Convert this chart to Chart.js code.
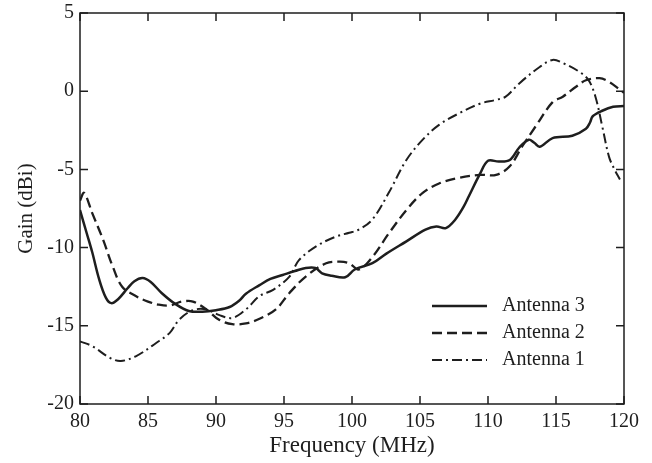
<!DOCTYPE html>
<html>
<head>
<meta charset="utf-8">
<script src="https://cdn.jsdelivr.net/npm/chart.js@4"></script>
<style>
  html, body { margin: 0; padding: 0; background: #fff; }
  #wrap { width: 652px; height: 463px; position: relative; }
</style>
</head>
<body>
<div id="wrap"><canvas id="gainChart"></canvas></div>
<script>
// frequency (MHz) / gain (dBi)
const freq3 = [80, 80.5, 80.9, 81.4, 81.9, 82.3, 82.8, 83.5, 84, 84.6, 85.2, 86, 87, 88, 89, 90, 91, 91.7, 92.2, 93.2, 94, 94.9, 95.8, 96.6, 97.3, 97.8, 98.5, 99.5, 100.2, 101.5, 102.5, 104, 105.4, 106.2, 106.9, 107.6, 108.2, 108.6, 109.4, 110, 110.8, 111.6, 112.3, 113, 113.4, 113.8, 114.75, 116.2, 117.2, 117.5, 117.7, 118.4, 119.2, 120];
const gain3 = [-7.6, -9.1, -10.3, -12, -13.2, -13.55, -13.3, -12.6, -12.15, -11.95, -12.2, -12.9, -13.6, -14.05, -14.1, -14, -13.8, -13.4, -12.95, -12.4, -12, -11.75, -11.5, -11.3, -11.3, -11.65, -11.8, -11.9, -11.4, -11, -10.4, -9.6, -8.85, -8.65, -8.75, -8.2, -7.4, -6.7, -5.3, -4.45, -4.5, -4.4, -3.6, -3.1, -3.3, -3.55, -3, -2.85, -2.4, -2, -1.6, -1.25, -1, -0.95];

const freq2 = [80, 80.3, 80.9, 81.7, 82.4, 83.1, 84.1, 85, 85.8, 86.6, 87.5, 88.3, 89.3, 90.2, 91.2, 92.2, 93.2, 94.4, 95.4, 96.6, 98.1, 99.1, 99.8, 100.5, 101.5, 102.7, 104, 105.2, 106.4, 107.8, 109.4, 110.6, 111.6, 112.5, 113.5, 114.75, 115.5, 116.5, 117.2, 118.2, 118.9, 119.7, 120];
const gain2 = [-7, -6.5, -7.8, -9.5, -11.2, -12.5, -13.1, -13.45, -13.65, -13.7, -13.45, -13.45, -13.95, -14.6, -14.9, -14.85, -14.55, -13.95, -12.9, -11.85, -11, -10.9, -11, -11.4, -10.6, -9.1, -7.6, -6.5, -5.9, -5.55, -5.35, -5.35, -4.8, -3.55, -2.25, -0.7, -0.35, 0.3, 0.7, 0.83, 0.6, 0.1, -0.1];

const freq1 = [80, 80.9, 82.2, 83, 84.1, 85.6, 86.6, 87.3, 88.3, 89.3, 90.2, 91.2, 92.2, 93.2, 94.2, 95.4, 96.1, 97.4, 98.8, 99.8, 100.5, 101.5, 102.7, 104, 105.2, 106.4, 107.9, 109.4, 110.6, 111.3, 112.3, 113.8, 114.75, 115.5, 116.7, 117.4, 117.9, 118.4, 118.9, 119.3, 119.7];
const gain1 = [-16, -16.3, -17.05, -17.25, -16.95, -16.1, -15.45, -14.6, -14, -13.95, -14.3, -14.5, -13.95, -13.1, -12.7, -11.85, -10.8, -9.9, -9.3, -9.05, -8.85, -8.2, -6.5, -4.4, -3.1, -2.15, -1.4, -0.8, -0.55, -0.35, 0.5, 1.55, 2, 1.8, 1.25, 0.7, -0.35, -2.25, -4.2, -5, -5.65];

const seriesNames = ["Antenna 3", "Antenna 2", "Antenna 1"];

const ink = "#1e1e1e";
const serif = "'Liberation Serif', 'Times New Roman', serif";

function pts(xs, ys) {
    return xs.map((x, i) => ({ x: x, y: ys[i] }))
}

// frame + inward ticks on all four sides
const framePlugin = {
    id: "frame",
    afterDatasetsDraw(chart) {
        const { ctx, chartArea: a, scales } = chart
        ctx.save()
        ctx.strokeStyle = ink
        ctx.lineWidth = 1.5
        ctx.strokeRect(a.left, a.top, a.right - a.left, a.bottom - a.top)
        const len = 8
        ctx.beginPath()
        scales.x.ticks.forEach(t => {
            const px = scales.x.getPixelForValue(t.value)
            ctx.moveTo(px, a.bottom); ctx.lineTo(px, a.bottom - len)
            ctx.moveTo(px, a.top); ctx.lineTo(px, a.top + len)
        })
        scales.y.ticks.forEach(t => {
            const py = scales.y.getPixelForValue(t.value)
            ctx.moveTo(a.left, py); ctx.lineTo(a.left + len, py)
            ctx.moveTo(a.right, py); ctx.lineTo(a.right - len, py)
        })
        ctx.stroke()
        ctx.restore()
    }
}

// legend drawn inside the plot, bottom right
const legendPlugin = {
    id: "insideLegend",
    afterDraw(chart) {
        const { ctx } = chart
        ctx.save()
        chart.data.datasets.forEach((ds, i) => {
            const y = 306 + i * 27
            ctx.strokeStyle = ds.borderColor
            ctx.lineWidth = ds.borderWidth
            ctx.setLineDash(ds.borderDash || [])
            ctx.beginPath()
            ctx.moveTo(432, y)
            ctx.lineTo(487, y)
            ctx.stroke()
            ctx.setLineDash([])
            ctx.fillStyle = ink
            ctx.font = "20px " + serif
            ctx.textBaseline = "middle"
            ctx.fillText(ds.label, 502, y)
        })
        ctx.restore()
    }
}

new Chart(document.getElementById("gainChart"), {
    type: "line",
    data: {
        datasets: [
            { label: seriesNames[0], data: pts(freq3, gain3), borderColor: ink, borderWidth: 2.5, borderDash: [] },
            { label: seriesNames[1], data: pts(freq2, gain2), borderColor: ink, borderWidth: 2.3, borderDash: [10, 5] },
            { label: seriesNames[2], data: pts(freq1, gain1), borderColor: ink, borderWidth: 2, borderDash: [10, 4, 2, 4] }
        ]
    },
    options: {
        responsive: true,
        maintainAspectRatio: false,
        animation: false,
        layout: { padding: { top: 13, right: 28, left: 0, bottom: 0 } },
        elements: {
            point: { radius: 0 },
            line: { tension: 0.35, fill: false }
        },
        plugins: {
            legend: { display: false },
            tooltip: { enabled: false }
        },
        scales: {
            x: {
                type: "linear",
                min: 80,
                max: 120,
                border: { display: false },
                grid: { display: false, drawTicks: false },
                ticks: { stepSize: 5, color: ink, padding: 6, font: { family: serif, size: 20 } },
                title: { display: true, text: "Frequency (MHz)", color: ink, font: { family: serif, size: 23 }, padding: { top: 0, bottom: 3 } },
                afterFit(scale) { scale.height = 59; scale.paddingLeft = 0; scale.paddingRight = 0 }
            },
            y: {
                min: -20,
                max: 5,
                border: { display: false },
                grid: { display: false, drawTicks: false },
                ticks: { stepSize: 5, color: ink, padding: 6, font: { family: serif, size: 20 } },
                title: { display: true, text: "Gain (dBi)", color: ink, font: { family: serif, size: 21 }, padding: { top: 14, bottom: 0 } },
                afterFit(scale) { scale.width = 80; scale.paddingTop = 0; scale.paddingBottom = 0 }
            }
        }
    },
    plugins: [framePlugin, legendPlugin]
})
</script>
</body>
</html>
